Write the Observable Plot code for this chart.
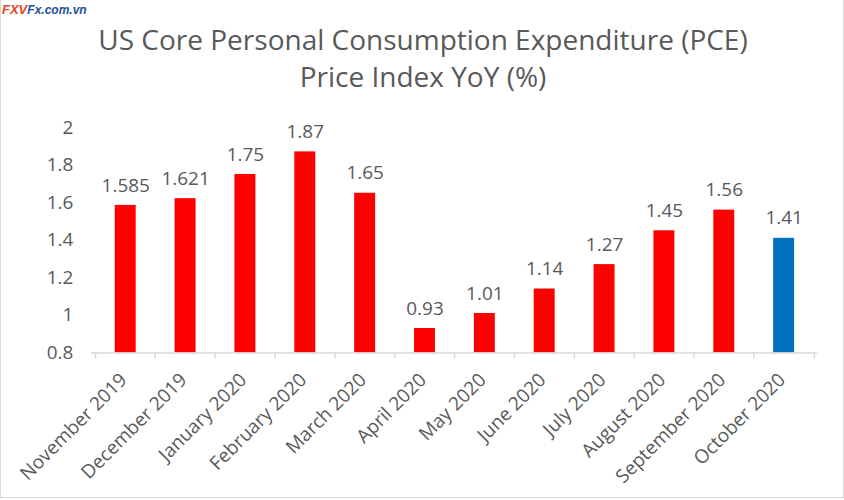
<!DOCTYPE html>
<html><head><meta charset="utf-8">
<script src="https://cdn.jsdelivr.net/npm/d3@7"></script>
<script src="https://cdn.jsdelivr.net/npm/@observablehq/plot@0.6"></script>
<style>
body{margin:0;background:#fff;font-family:"Open Sans",sans-serif;}
#wrap{position:relative;width:842px;height:497px;border:1px solid #d9d9d9;border-top:none;overflow:hidden;}
#logo{position:absolute;left:1px;top:2px;font-family:"Liberation Sans",sans-serif;font-weight:bold;font-style:italic;font-size:12px;line-height:15px;}
#title{position:absolute;left:0;top:21px;width:844px;text-align:center;color:#595959;font-size:28px;line-height:37px;font-family:"Open Sans",sans-serif;}
#chart{position:absolute;left:0;top:110px;}
</style></head>
<body>
<div id="wrap">
<div id="logo"><span style="color:#e8431b;font-size:13px">FXV</span><span style="color:#1f4e9c">Fx.com.vn</span></div>
<div id="title">US Core Personal Consumption Expenditure (PCE)<br>Price Index YoY (%)</div>
<div id="chart"></div>
</div>
<script>
const months = ["November 2019","December 2019","January 2020","February 2020","March 2020","April 2020","May 2020","June 2020","July 2020","August 2020","September 2020","October 2020"];
const values = [1.585,1.621,1.75,1.87,1.65,0.93,1.01,1.14,1.27,1.45,1.56,1.41];
const labels = ["1.585","1.621","1.75","1.87","1.65","0.93","1.01","1.14","1.27","1.45","1.56","1.41"];
const yTicks = [0.8,1,1.2,1.4,1.6,1.8,2];
const highlight = "October 2020";

const data = months.map((m,i)=>({month:m,value:values[i],label:labels[i]}));
const gray = "#595959";
const chart = Plot.plot({
  width:844, height:390,
  marginLeft:90, marginRight:26, marginTop:17, marginBottom:147,
  style:{fontFamily:"Open Sans, sans-serif", color:gray, background:"transparent"},
  x:{domain:months, paddingInner:0.65, paddingOuter:0.325, label:null},
  y:{domain:[0.8,2], label:null},
  marks:[
    Plot.barY(data,{x:"month", y1:0.8, y2:"value", fill:d=>d.month===highlight?"#0070c0":"#ff0000"}),
    Plot.ruleY([0.8],{stroke:"#d9d9d9", strokeWidth:1.5}),
    Plot.ruleX(months,{x:d=>d, dx:-30.33, y1:0.8, y2:0.768, stroke:"#d9d9d9", strokeWidth:1.5}),
    Plot.ruleX([months[months.length-1]],{x:d=>d, dx:30.33, y1:0.8, y2:0.768, stroke:"#d9d9d9", strokeWidth:1.5}),
    Plot.text(data,{x:"month", y:"value", text:"label", dy:-20, fill:gray, fontSize:19}),
    Plot.axisY({ticks:yTicks, tickFormat:d=>String(d), tickSize:0, tickPadding:18, fontSize:19, fill:gray}),
    Plot.axisX({tickSize:0, tickRotate:-45, tickPadding:24, fontSize:19, fill:gray, dx:-2})
  ]
});
document.getElementById("chart").appendChild(chart);
</script>
</body></html>
